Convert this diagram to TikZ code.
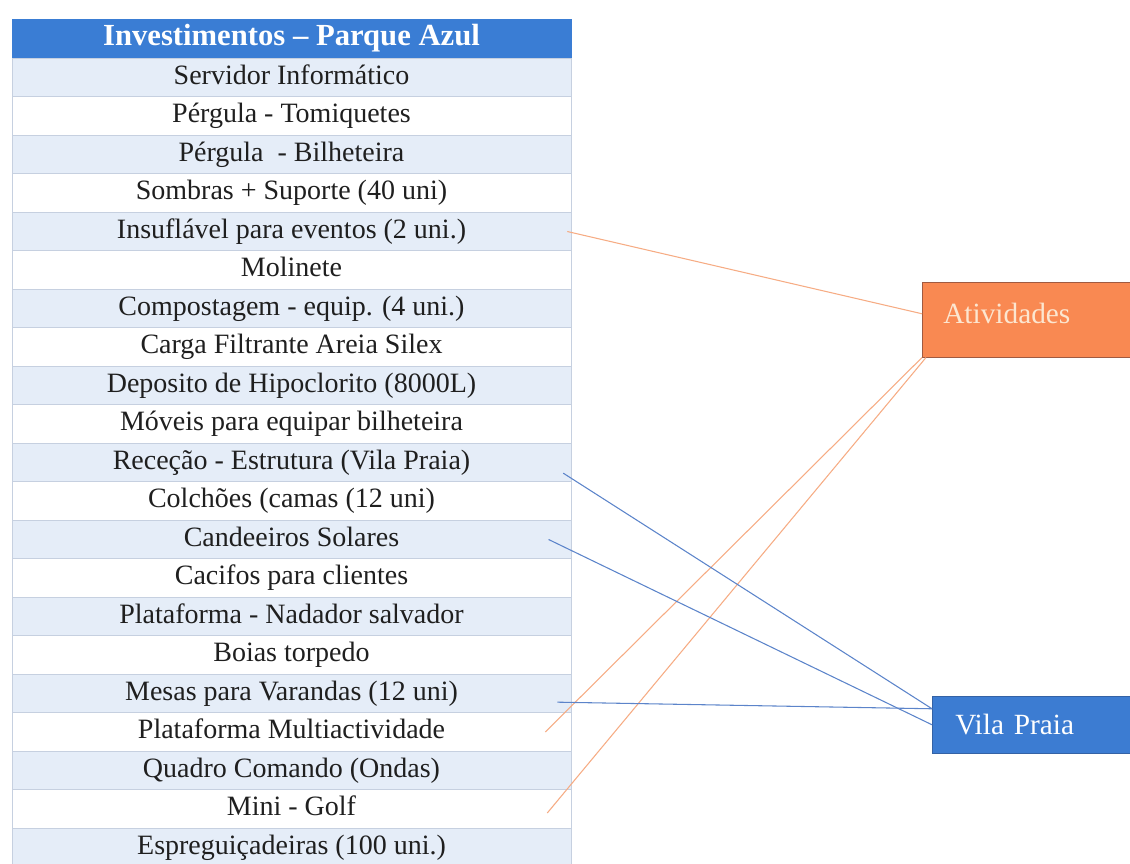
\documentclass[tikz,border=0pt]{standalone}
\usepackage{fontspec}
\setmainfont{Liberation Serif}
\usepackage{tikz}
\usetikzlibrary{shapes.geometric, arrows}
\definecolor{headblue}{RGB}{58,125,212}
\definecolor{rowblue}{RGB}{229,237,248}
\definecolor{gridc}{RGB}{198,208,224}
\definecolor{actfill}{RGB}{249,137,82}
\definecolor{actedge}{RGB}{160,90,65}
\definecolor{acttext}{RGB}{252,230,208}
\definecolor{vpfill}{RGB}{60,124,210}
\definecolor{vpedge}{RGB}{52,98,165}
\definecolor{orangeln}{RGB}{246,172,132}
\definecolor{blueln}{RGB}{92,132,202}
\tikzstyle{row} = [rectangle, minimum width=419.25pt, minimum height=28.875pt, inner sep=0pt, text height=14.5pt, text depth=4.5pt, text centered, draw=gridc, fill=white, text=black!88, font=\fontsize{21}{24}\selectfont]
\tikzstyle{rowb} = [row, fill=rowblue]
\tikzstyle{headrow} = [row, fill=headblue, draw=headblue, text=white, font=\fontsize{23}{26}\selectfont\bfseries]
\tikzstyle{box} = [rectangle, anchor=north west, align=left, font=\fontsize{22}{26}\selectfont]
\tikzstyle{oline} = [line width=0.8pt, draw=orangeln]
\tikzstyle{bline} = [line width=0.8pt, draw=blueln]

\begin{document}
\begin{tikzpicture}[x=0.75pt, y=-0.75pt, node distance=28.875pt]
\useasboundingbox (0,0) rectangle (1130,863);
\node (head) [headrow] at (291.5,39) {Investimentos -- Parque Azul};
\node (inv1) [rowb, below of=head] {Servidor Informático};
\node (inv2) [row, below of=inv1] {Pérgula - Tomiquetes};
\node (inv3) [rowb, below of=inv2] {Pérgula~ - Bilheteira};
\node (inv4) [row, below of=inv3] {Sombras + Suporte (40 uni)};
\node (inv5) [rowb, below of=inv4] {Insuflável para eventos (2 uni.)};
\node (inv6) [row, below of=inv5] {Molinete};
\node (inv7) [rowb, below of=inv6] {Compostagem - equip. (4 uni.)};
\node (inv8) [row, below of=inv7] {Carga Filtrante Areia Silex};
\node (inv9) [rowb, below of=inv8] {Deposito de Hipoclorito (8000L)};
\node (inv10) [row, below of=inv9] {Móveis para equipar bilheteira};
\node (inv11) [rowb, below of=inv10] {Receção - Estrutura (Vila Praia)};
\node (inv12) [row, below of=inv11] {Colchões (camas (12 uni)};
\node (inv13) [rowb, below of=inv12] {Candeeiros Solares};
\node (inv14) [row, below of=inv13] {Cacifos para clientes};
\node (inv15) [rowb, below of=inv14] {Plataforma - Nadador salvador};
\node (inv16) [row, below of=inv15] {Boias torpedo};
\node (inv17) [rowb, below of=inv16] {Mesas para Varandas (12 uni)};
\node (inv18) [row, below of=inv17] {Plataforma Multiactividade};
\node (inv19) [rowb, below of=inv18] {Quadro Comando (Ondas)};
\node (inv20) [row, below of=inv19] {Mini - Golf};
\node (inv21) [rowb, below of=inv20] {Espreguiçadeiras (100 uni.)};

\node (Act) [box, fill=actfill, draw=actedge, text=acttext, text width=132pt, inner xsep=15.75pt, text height=15pt, text depth=9pt, minimum height=56.25pt] at (922,282) {Atividades};
\node (VP) [box, fill=vpfill, draw=vpedge, text=white, text width=121.5pt, inner xsep=17.25pt, minimum height=42.75pt] at (932,696) {Vila Praia};

\draw [oline] ([xshift=-3pt]inv5.east) -- ([yshift=4.5pt]Act.west);
\draw [oline] ([xshift=-19.5pt]inv18.east) -- (Act.south west);
\draw [oline] ([xshift=-18pt,yshift=-3pt]inv20.east) -- ([xshift=3pt]Act.south west);
\draw [bline] ([xshift=-6pt,yshift=-8pt]inv11.east) -- ([yshift=12pt]VP.west);
\draw [bline] ([xshift=-17pt]inv13.east) -- (VP.west);
\draw [bline] ([xshift=-10.5pt,yshift=-6.5pt]inv17.east) -- ([yshift=12pt]VP.west);
\end{tikzpicture}
\end{document}
